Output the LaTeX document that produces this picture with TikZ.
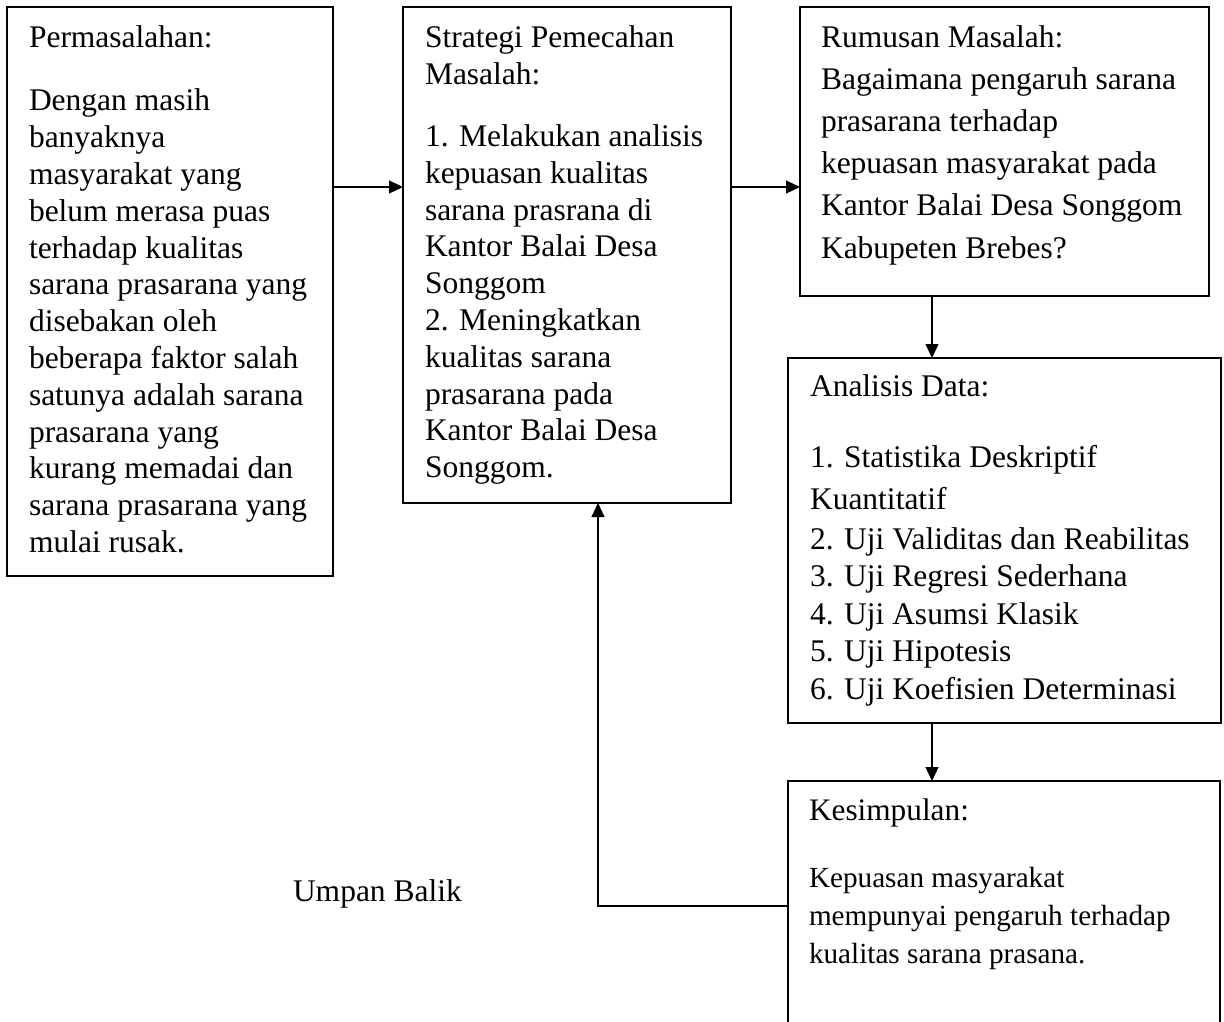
\documentclass[tikz,border=0pt]{standalone}
\usepackage{fontspec}
\setmainfont{Liberation Serif}
\usetikzlibrary{arrows.meta}
\newcommand\fontA{\fontsize{31.5}{36.8}\selectfont}
\newcommand\fontB{\fontsize{31.5}{42.2}\selectfont}
\newcommand\fontC{\fontsize{31.5}{37.5}\selectfont}
\newcommand\fontD{\fontsize{31.3}{38}\selectfont}
\newcommand\fontE{\fontsize{29.2}{38}\selectfont}
\tikzset{
  boxnode/.style={draw, line width=1.5pt, inner sep=0pt, outer sep=0pt, anchor=north west},
  txt/.style={inner sep=0pt, outer sep=0pt, anchor=north west, align=left},
  conn/.style={line width=1.1pt, -{Triangle[length=14pt,width=13pt]}}
}
\begin{document}
\begin{tikzpicture}[x=1pt,y=-1pt]
\useasboundingbox (0,0) rectangle (1224,1021);
\clip (0,0) rectangle (1224,1021);
% boxes
\node[boxnode, minimum width=326pt, minimum height=569pt] (b1) at (7,7) {};
\node[boxnode, minimum width=328pt, minimum height=496pt] (b2) at (403,7) {};
\node[boxnode, minimum width=409pt, minimum height=289pt] (b3) at (800,7) {};
\node[boxnode, minimum width=433pt, minimum height=365pt] (b4) at (788,358) {};
\node[boxnode, minimum width=432pt, minimum height=260pt] (b5) at (788,781) {};
% texts
\node[txt, font=\fontA] (t1) at (29,22.2) {\strut Permasalahan:\\[26.2pt]
Dengan masih\\ banyaknya\\ masyarakat yang\\ belum merasa puas\\ terhadap kualitas\\ sarana prasarana yang\\ disebakan oleh\\ beberapa faktor salah\\ satunya adalah sarana\\ prasarana yang\\ kurang memadai dan\\ sarana prasarana yang\\ mulai rusak.};
\node[txt, font=\fontA] (t2) at (425,22.2) {\strut Strategi Pemecahan\\ Masalah:\\[25pt]
1. Melakukan analisis\\ kepuasan kualitas\\ sarana prasrana di\\ Kantor Balai Desa\\ Songgom\\ 2. Meningkatkan\\ kualitas sarana\\ prasarana pada\\ Kantor Balai Desa\\ Songgom.};
\node[txt, font=\fontB] (t3) at (821,17.46) {\strut Rumusan Masalah:\\ Bagaimana pengaruh sarana\\ prasarana terhadap\\ kepuasan masyarakat pada\\ Kantor Balai Desa Songgom\\ Kabupeten Brebes?};
\node[txt, font=\fontC] (t4) at (810,369.75) {\strut Analisis Data:\\[33.5pt]
1. Statistika Deskriptif\\[4.5pt] Kuantitatif\\[2.5pt] 2. Uji Validitas dan Reabilitas\\ 3. Uji Regresi Sederhana\\ 4. Uji Asumsi Klasik\\ 5. Uji Hipotesis\\ 6. Uji Koefisien Determinasi};
\node[txt, font=\fontD] (t5h) at (809,793.4) {\strut Kesimpulan:};
\node[txt, font=\fontE] (t5b) at (809,860.4) {\strut Kepuasan masyarakat\\ mempunyai pengaruh terhadap\\ kualitas sarana prasana.};
\node[inner sep=0pt, outer sep=0pt, anchor=base west, font=\fontC] (ub) at (293,901) {Umpan Balik};
% connectors
\coordinate (r1) at (0,187);
\coordinate (c1) at (932,0);
\coordinate (fb) at (598,906);
\draw[conn] (b1.east |- r1) -- (b2.west |- r1);
\draw[conn] (b2.east |- r1) -- (b3.west |- r1);
\draw[conn] (b3.south -| c1) -- (b4.north -| c1);
\draw[conn] (b4.south -| c1) -- (b5.north -| c1);
\draw[conn] (b5.west |- fb) -- (fb) -- (fb |- b2.south);
\end{tikzpicture}
\end{document}
